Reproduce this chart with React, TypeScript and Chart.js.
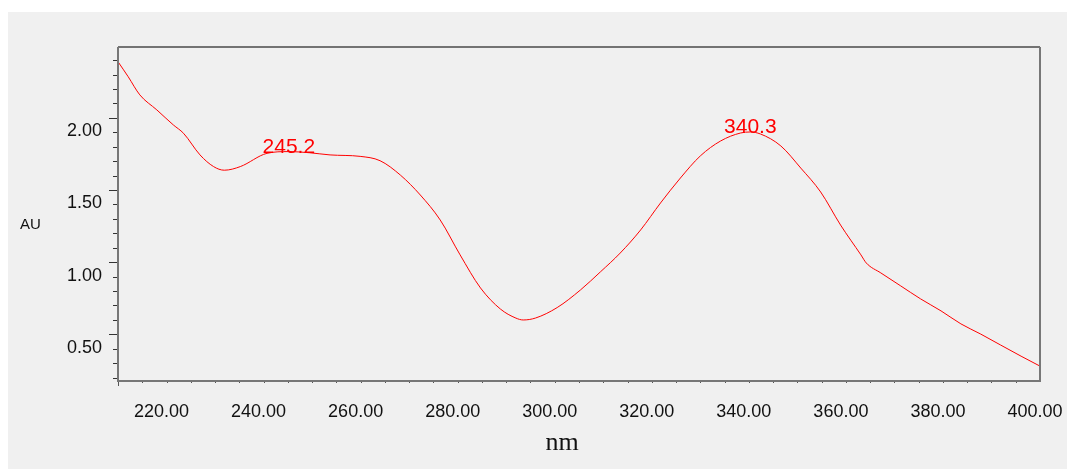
import React, { useEffect, useRef } from "react";
import { Chart, registerables } from "chart.js";

Chart.register(...registerables);

// UV absorbance spectrum
const wavelengthNm = [
  210, 212.1, 214.5, 218, 221.4, 223.5, 226.9, 229.7, 231.9, 235.2, 240.7, 245.2,
  249.5, 253.7, 259.9, 264.0, 268.2, 272.3, 276.4, 280.5, 284.7, 288.8, 292.0,
  293.5, 296.0, 300.5, 305.3, 309.4, 313.5, 317.7, 321.8, 325.9, 330.0, 334.2,
  338.3, 340.3, 342.4, 346.6, 350.7, 354.8, 358.9, 363.1, 364.2, 367.2, 371.3,
  375.4, 379.6, 383.7, 387.8, 391.9, 396.1, 400,
];
const absorbanceAu = [
  2.489, 2.385, 2.259, 2.155, 2.051, 1.993, 1.843, 1.762, 1.737, 1.762, 1.854, 1.866,
  1.858, 1.843, 1.833, 1.803, 1.703, 1.565, 1.392, 1.150, 0.921, 0.775, 0.712,
  0.699, 0.712, 0.785, 0.907, 1.032, 1.163, 1.323, 1.510, 1.683, 1.836, 1.940,
  1.995, 2.002, 1.988, 1.905, 1.752, 1.586, 1.357, 1.150, 1.094, 1.025, 0.935,
  0.845, 0.762, 0.672, 0.601, 0.525, 0.448, 0.379,
];

// Labelled maxima
const peakNm = [245.2, 340.3];
const peakAu = [1.866, 2.002];

// Axis tick labels
const nmTickLabels = [220, 240, 260, 280, 300, 320, 340, 360, 380, 400];
const auTickLabels = [0.5, 1.0, 1.5, 2.0];

const X_MIN = 210;
const X_MAX = 400;
const Y_MIN = 0.276;
const Y_MAX = 2.591;

const sans = '"Liberation Sans", Arial, sans-serif';

const decorPlugin = {
  id: "decor",
  afterDraw(chart: any) {
    const { ctx, chartArea, scales } = chart;
    const { left, top, right, bottom } = chartArea;
    const x = scales.x;
    const y = scales.y;
    ctx.save();

    // minor / major ticks on the AU axis
    ctx.strokeStyle = "#333333";
    ctx.lineWidth = 1;
    for (let i = 3; i <= 25; i++) {
      const v = i / 10;
      const py = Math.round(y.getPixelForValue(v)) + 0.5;
      const len = i % 5 === 1 ? 9 : 5;
      ctx.beginPath();
      ctx.moveTo(left - len, py);
      ctx.lineTo(left, py);
      ctx.stroke();
    }

    // ticks on the wavelength axis
    ctx.strokeStyle = "#555555";
    for (let v = 215; v < X_MAX; v += 5) {
      const px = Math.round(x.getPixelForValue(v)) + 0.5;
      ctx.beginPath();
      ctx.moveTo(px, bottom);
      ctx.lineTo(px, bottom + 2);
      ctx.stroke();
    }
    ctx.beginPath();
    ctx.moveTo(left + 0.5, bottom);
    ctx.lineTo(left + 0.5, bottom + 5);
    ctx.stroke();

    // plot frame
    ctx.strokeStyle = "#4a4a4a";
    ctx.lineWidth = 1.5;
    ctx.beginPath();
    ctx.moveTo(left, top);
    ctx.lineTo(right, top);
    ctx.stroke();
    ctx.strokeStyle = "#777777";
    ctx.lineWidth = 2;
    ctx.beginPath();
    ctx.moveTo(left, top);
    ctx.lineTo(left, bottom);
    ctx.lineTo(right, bottom);
    ctx.lineTo(right, top);
    ctx.stroke();

    // peak annotations
    ctx.fillStyle = "#ff0000";
    ctx.font = `21px ${sans}`;
    ctx.textAlign = "center";
    ctx.textBaseline = "alphabetic";
    peakNm.forEach((nm, i) => {
      const px = x.getPixelForValue(nm);
      const py = y.getPixelForValue(peakAu[i]);
      ctx.fillText(nm.toFixed(1), px, py + 1);
    });

    // axis titles
    ctx.fillStyle = "#111111";
    ctx.font = `15px ${sans}`;
    ctx.textBaseline = "middle";
    ctx.fillText("AU", 22.5, 213);
    ctx.font = '26px "Liberation Serif", "Times New Roman", serif';
    ctx.fillText("nm", (left + right) / 2 - 17, 431);

    ctx.restore();
  },
};

export default function App() {
  const canvasRef = useRef<HTMLCanvasElement | null>(null);

  useEffect(() => {
    if (!canvasRef.current) return;
    const chart = new Chart(canvasRef.current, {
      type: "line",
      data: {
        datasets: [
          {
            data: wavelengthNm.map((nm, i) => ({ x: nm, y: absorbanceAu[i] })),
            borderColor: "#ff0000",
            borderWidth: 1,
            pointRadius: 0,
            cubicInterpolationMode: "monotone",
            fill: false,
          },
        ],
      },
      options: {
        responsive: false,
        animation: false,
        layout: { padding: { left: 0, top: 35, right: 27, bottom: 0 } },
        plugins: {
          legend: { display: false },
          tooltip: { enabled: false },
        },
        scales: {
          x: {
            type: "linear",
            min: X_MIN,
            max: X_MAX,
            afterBuildTicks: (scale: any) => {
              scale.ticks = nmTickLabels.map((v) => ({ value: v }));
            },
            afterFit: (scale: any) => {
              scale.height = 88;
              scale.paddingLeft = 0;
              scale.paddingRight = 0;
            },
            grid: { display: false, drawTicks: false },
            border: { display: false },
            ticks: {
              padding: 20,
              labelOffset: -5,
              maxRotation: 0,
              autoSkip: false,
              color: "#111111",
              font: { family: sans, size: 18 },
              callback: (v: any) => Number(v).toFixed(2),
            },
          },
          y: {
            type: "linear",
            min: Y_MIN,
            max: Y_MAX,
            afterBuildTicks: (scale: any) => {
              scale.ticks = auTickLabels.map((v) => ({ value: v }));
            },
            afterFit: (scale: any) => {
              scale.width = 110;
              scale.paddingTop = 0;
              scale.paddingBottom = 0;
            },
            grid: { display: false, drawTicks: false },
            border: { display: false },
            ticks: {
              padding: 16,
              labelOffset: -1,
              autoSkip: false,
              color: "#111111",
              font: { family: sans, size: 18 },
              callback: (v: any) => Number(v).toFixed(2),
            },
          },
        },
      },
      plugins: [decorPlugin],
    });
    return () => chart.destroy();
  }, []);

  return (
    <div
      style={{
        position: "absolute",
        left: 8,
        top: 12,
        width: 1059,
        height: 457,
        background: "#f0f0f0",
      }}
    >
      <canvas ref={canvasRef} width={1059} height={457} />
    </div>
  );
}
